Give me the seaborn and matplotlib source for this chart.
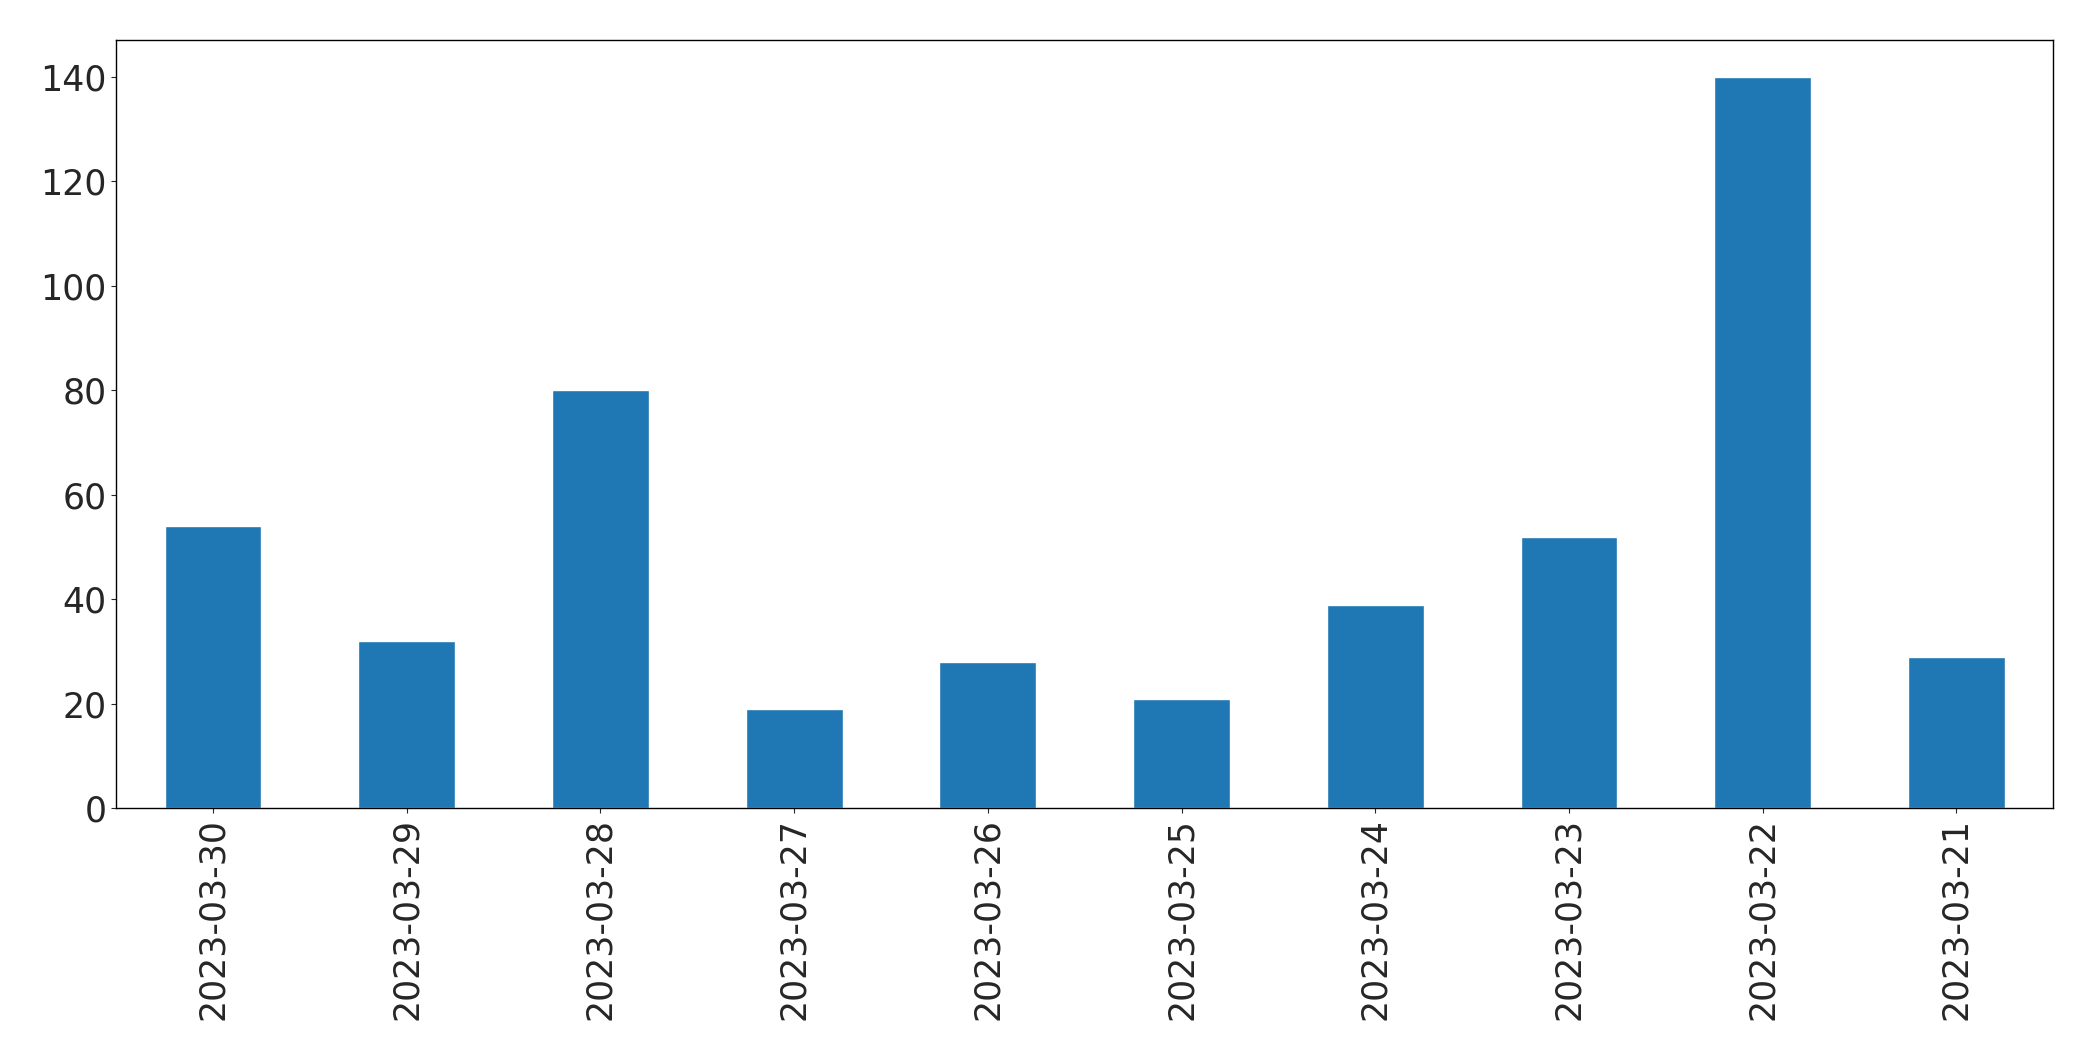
import matplotlib
matplotlib.use("Agg")
import matplotlib.pyplot as plt
import seaborn as sns
import pandas as pd

dates = ['2023-03-30', '2023-03-29', '2023-03-28', '2023-03-27', '2023-03-26',
         '2023-03-25', '2023-03-24', '2023-03-23', '2023-03-22', '2023-03-21']
counts = [54, 32, 80, 19, 28, 21, 39, 52, 140, 29]

df = pd.DataFrame({'date': dates, 'count': counts})

sns.set_style('ticks')
plt.rcParams['font.family'] = ['DejaVu Sans']

fig = plt.figure(figsize=(20.93, 10.61), dpi=100)
ax = fig.add_axes([0.0555, 0.238, 0.9255, 0.724])
sns.barplot(data=df, x='date', y='count', color='#1f77b4', saturation=1, width=0.5, ax=ax)
ax.set_xlim(-0.5, len(dates) - 0.5)
ax.set_ylim(0, 147)
ax.set_xlabel('')
ax.set_ylabel('')
ax.tick_params(axis='both', labelsize=25)
ax.tick_params(axis='x', labelrotation=90)
for s in ax.spines.values():
    s.set_visible(True)
    s.set_color('black')
    s.set_linewidth(1)

fig.savefig('out.png', dpi=100)
